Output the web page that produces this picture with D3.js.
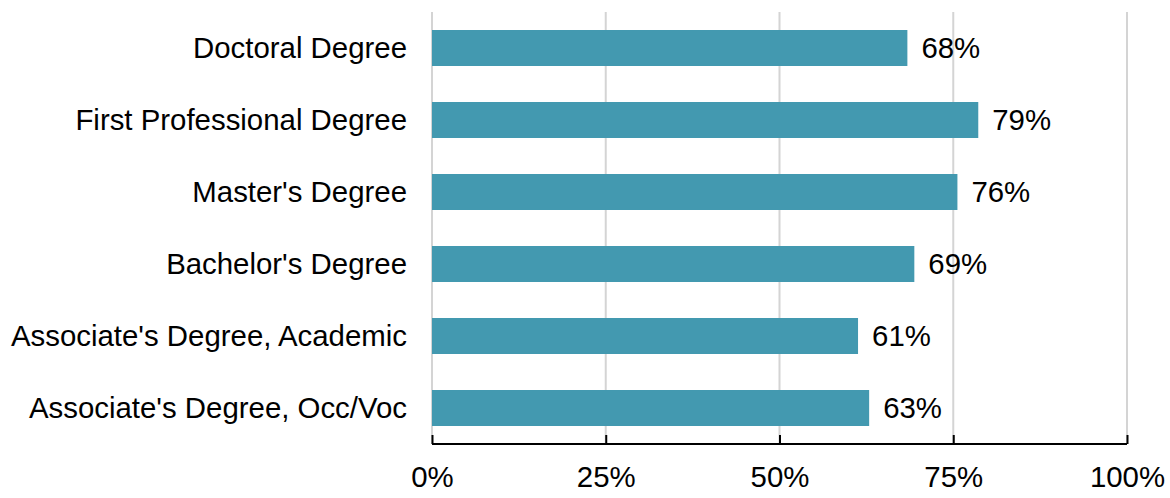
<!DOCTYPE html>
<html>
<head>
<meta charset="utf-8">
<script src="https://cdn.jsdelivr.net/npm/d3@7"></script>
<style>
	body { margin: 0; background: #fff; }
	text { font-family: "Liberation Sans", Arial, sans-serif; fill: #000; }
</style>
</head>
<body>
<svg id="chart" width="1170" height="498"></svg>
<script>
var categories = ["Doctoral Degree", "First Professional Degree", "Master's Degree",
	"Bachelor's Degree", "Associate's Degree, Academic", "Associate's Degree, Occ/Voc"]
var shares = [68.4, 78.6, 75.6, 69.4, 61.3, 62.9]
var tick_values = [0, 25, 50, 75, 100]

var svg = d3.select('#chart')
var plot_left = 432, plot_right = 1127, plot_top = 12, plot_bottom = 444
var font_px = '29.4px'

var x = d3.scaleLinear().domain([0, 100]).range([plot_left, plot_right])
var y = d3.scaleBand().domain(categories).range([plot_top, plot_bottom])
	.paddingInner(0.5).paddingOuter(0.25)

// gridlines
svg.selectAll('line.grid').data(tick_values).enter().append('line')
	.attr('class', 'grid')
	.attr('x1', function(d){return x(d)}).attr('x2', function(d){return x(d)})
	.attr('y1', plot_top).attr('y2', plot_bottom)
	.attr('stroke', '#d4d4d4').attr('stroke-width', 2)

// bars
svg.selectAll('rect.bar').data(shares).enter().append('rect')
	.attr('class', 'bar')
	.attr('x', x(0))
	.attr('y', function(d, i){return y(categories[i])})
	.attr('width', function(d){return x(d) - x(0)})
	.attr('height', y.bandwidth())
	.attr('fill', '#4399b0')

// value labels
svg.selectAll('text.val').data(shares).enter().append('text')
	.attr('class', 'val')
	.attr('x', function(d){return x(d) + 14})
	.attr('y', function(d, i){return y(categories[i]) + y.bandwidth() / 2})
	.attr('dy', '0.35em')
	.style('font-size', font_px)
	.text(function(d){return Math.round(d) + '%'})

// category labels
svg.selectAll('text.cat').data(categories).enter().append('text')
	.attr('class', 'cat')
	.attr('x', 407)
	.attr('y', function(d){return y(d) + y.bandwidth() / 2})
	.attr('dy', '0.35em')
	.attr('text-anchor', 'end')
	.style('font-size', font_px)
	.text(function(d){return d})

// x axis
var axis = svg.append('g')
	.attr('transform', 'translate(0,' + plot_bottom + ')')
	.call(d3.axisBottom(x).tickValues(tick_values).tickSize(-9).tickPadding(22)
		.tickFormat(function(d){return d + '%'}))
axis.select('.domain').attr('stroke', '#000').attr('stroke-width', 2).attr('d', 'M' + plot_left + ',0H' + plot_right)
axis.selectAll('.tick line').attr('stroke', '#000').attr('stroke-width', 2)
axis.selectAll('.tick text').style('font-size', font_px).attr('fill', '#000')
	.style('font-family', '"Liberation Sans", Arial, sans-serif')
</script>
</body>
</html>
